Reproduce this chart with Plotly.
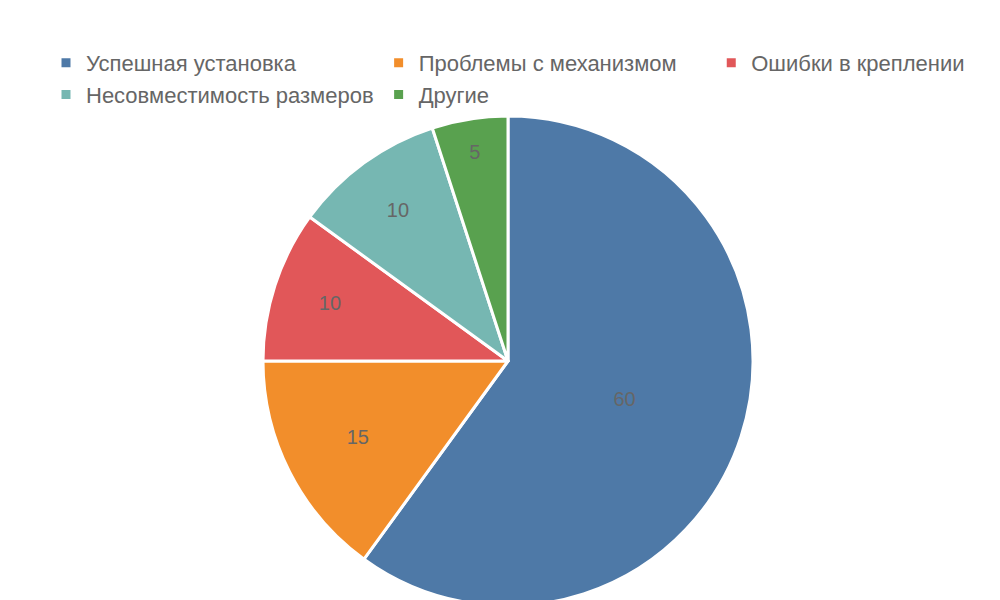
import plotly.graph_objects as go

labels = ["Успешная установка", "Проблемы с механизмом", "Ошибки в креплении",
          "Несовместимость размеров", "Другие"]
values = [60, 15, 10, 10, 5]
colors = ["#4e79a7", "#f28e2b", "#e15759", "#76b7b2", "#59a14f"]

fig = go.Figure(go.Pie(
    labels=labels,
    values=values,
    sort=False,
    direction="clockwise",
    rotation=0,
    marker=dict(colors=colors, line=dict(color="white", width=3)),
    textinfo="value",
    textposition="inside",
    insidetextorientation="horizontal",
    textfont=dict(color="#666666", size=20, family="Liberation Sans"),
))

fig.update_layout(
    width=1000, height=600,
    margin=dict(t=108, b=2, l=0, r=0),
    paper_bgcolor="white",
    font=dict(family="Liberation Sans", color="#666666"),
    legend=dict(orientation="h", x=0.5, xanchor="center", y=1.0, yanchor="bottom",
                font=dict(size=22, color="#666666"), traceorder="normal"),
)

fig.write_html("out.html")
